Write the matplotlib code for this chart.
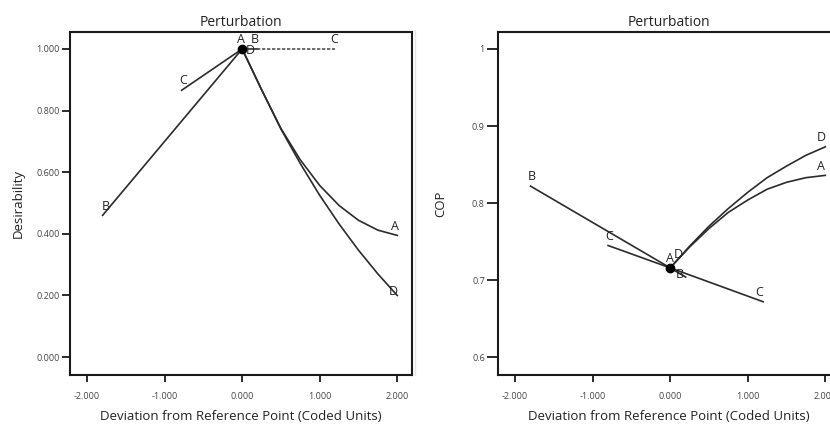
import matplotlib
matplotlib.use("Agg")
import matplotlib.pyplot as plt
from matplotlib.lines import Line2D

plt.rcParams['font.family'] = ['Open Sans', 'DejaVu Sans']

# ---------------- data ----------------
xticks = [-2, -1, 0, 1, 2]
xtick_labels = ["-2.000", "-1.000", "0.000", "1.000", "2.000"]

# Left panel: Desirability
des_yticks = [0.0, 0.2, 0.4, 0.6, 0.8, 1.0]
des_ytick_labels = ["0.000", "0.200", "0.400", "0.600", "0.800", "1.000"]
des_A_x = [0, 0.25, 0.5, 0.75, 1.0, 1.25, 1.5, 1.75, 2.0]
des_A_y = [1.0, 0.868, 0.742, 0.640, 0.557, 0.492, 0.444, 0.412, 0.395]
des_D_x = [0, 0.25, 0.5, 0.75, 1.0, 1.25, 1.5, 1.75, 2.0]
des_D_y = [1.0, 0.868, 0.740, 0.628, 0.525, 0.432, 0.347, 0.270, 0.200]
des_B_x = [-1.8, 0.0, 0.2]
des_B_y = [0.46, 1.0, 1.0]
des_C_x = [-0.78, 0.0]
des_C_y = [0.866, 1.0]
des_C2_x = [0.0, 1.2]
des_C2_y = [1.0, 1.0]
des_ref = (0.0, 1.0)

# Right panel: COP
cop_yticks = [0.6, 0.7, 0.8, 0.9, 1.0]
cop_ytick_labels = ["0.6", "0.7", "0.8", "0.9", "1"]
cop_A_x = [0, 0.25, 0.5, 0.75, 1.0, 1.25, 1.5, 1.75, 2.0]
cop_A_y = [0.716, 0.743, 0.767, 0.788, 0.804, 0.818, 0.827, 0.833, 0.836]
cop_D_x = [0, 0.25, 0.5, 0.75, 1.0, 1.25, 1.5, 1.75, 2.0]
cop_D_y = [0.716, 0.744, 0.770, 0.793, 0.814, 0.833, 0.848, 0.862, 0.873]
cop_B_x = [-1.8, 0.0, 0.2]
cop_B_y = [0.822, 0.716, 0.704]
cop_C_x = [-0.8, 0.0, 1.2]
cop_C_y = [0.745, 0.716, 0.672]
cop_ref = (0.0, 0.716)

title = "Perturbation"
xlabel = "Deviation from Reference Point (Coded Units)"

# ---------------- figure ----------------
fig = plt.figure(figsize=(8.3, 4.25), dpi=100)
lc = '#2b2b2b'
lw = 1.2

def style_axes(ax, yticks, ylabels, ylim, ylabel, ytick_len, ylabelpad):
    ax.set_xlim(-2.22, 2.19)
    ax.set_ylim(*ylim)
    ax.set_xticks(xticks)
    ax.set_xticklabels(xtick_labels)
    ax.set_yticks(yticks)
    ax.set_yticklabels(ylabels)
    for s in ax.spines.values():
        s.set_linewidth(1.5)
        s.set_color('#1a1a1a')
    ax.tick_params(axis='x', direction='out', length=5, width=1.3, pad=7,
                   labelsize=6.5, colors='#1a1a1a', labelcolor='#444444')
    ax.tick_params(axis='y', direction='out', length=ytick_len, width=1.3, pad=1.5,
                   labelsize=6.5, colors='#1a1a1a', labelcolor='#444444')
    ax.set_title(title, fontsize=10, pad=4, color='#222222')
    ax.set_xlabel(xlabel, fontsize=9.5, labelpad=7, color='#222222')
    ax.set_ylabel(ylabel, fontsize=9.5, labelpad=ylabelpad, color='#222222')

def label(ax, x, y, t, dx=0, dy=2):
    ax.annotate(t, (x, y), xytext=(dx, dy), textcoords='offset points',
                ha='center', va='bottom', fontsize=9, color='#222222')

# Left
ax1 = fig.add_axes([70/830, 50/425, 342/830, 343/425])
style_axes(ax1, des_yticks, des_ytick_labels, (-0.058, 1.055), "Desirability", 6, 8)
ax1.plot(des_A_x, des_A_y, color=lc, lw=lw)
ax1.plot(des_D_x, des_D_y, color=lc, lw=lw)
ax1.plot(des_B_x, des_B_y, color=lc, lw=lw)
ax1.plot(des_C_x, des_C_y, color=lc, lw=lw)
ax1.plot(des_C2_x, des_C2_y, color='#555555', lw=1.2, ls=(0, (2, 1)))
ax1.plot(*des_ref, 'o', color='black', ms=6)
label(ax1, des_A_x[-1], des_A_y[-1], "A", dx=-2)
label(ax1, des_A_x[0], des_A_y[0], "A", dx=-1)
label(ax1, des_D_x[-1], des_D_y[-1], "D", dx=-3, dy=-2)
label(ax1, des_D_x[0], des_D_y[0], "D", dx=6, dy=-6)
label(ax1, des_B_x[0], des_B_y[0], "B", dx=2)
label(ax1, des_B_x[-1], des_B_y[-1], "B", dx=-2)
label(ax1, des_C_x[0], des_C_y[0], "C", dx=1)
label(ax1, des_C2_x[-1], des_C2_y[-1], "C", dx=-1)

# Right
ax2 = fig.add_axes([498/830, 50/425, 342/830, 343/425])
style_axes(ax2, cop_yticks, cop_ytick_labels, (0.577, 1.022), "COP", 8, 18)
ax2.plot(cop_A_x, cop_A_y, color=lc, lw=lw)
ax2.plot(cop_D_x, cop_D_y, color=lc, lw=lw)
ax2.plot(cop_B_x, cop_B_y, color=lc, lw=lw)
ax2.plot(cop_C_x, cop_C_y, color=lc, lw=lw)
ax2.plot(*cop_ref, 'o', color='black', ms=6)
label(ax2, cop_A_x[-1], cop_A_y[-1], "A", dx=-3)
label(ax2, cop_A_x[0], cop_A_y[0], "A", dx=0)
label(ax2, cop_D_x[-1], cop_D_y[-1], "D", dx=-3)
label(ax2, cop_D_x[0], cop_D_y[0], "D", dx=6, dy=5)
label(ax2, cop_B_x[0], cop_B_y[0], "B", dx=1)
label(ax2, cop_B_x[-1], cop_B_y[-1], "B", dx=-4, dy=-3)
label(ax2, cop_C_x[0], cop_C_y[0], "C", dx=1)
label(ax2, cop_C_x[-1], cop_C_y[-1], "C", dx=-3)

fig.add_artist(Line2D([415/830, 415/830], [50/425, 395/425], color='#e6e6e6', lw=1,
                      transform=fig.transFigure))

fig.savefig("out.png", dpi=100)
